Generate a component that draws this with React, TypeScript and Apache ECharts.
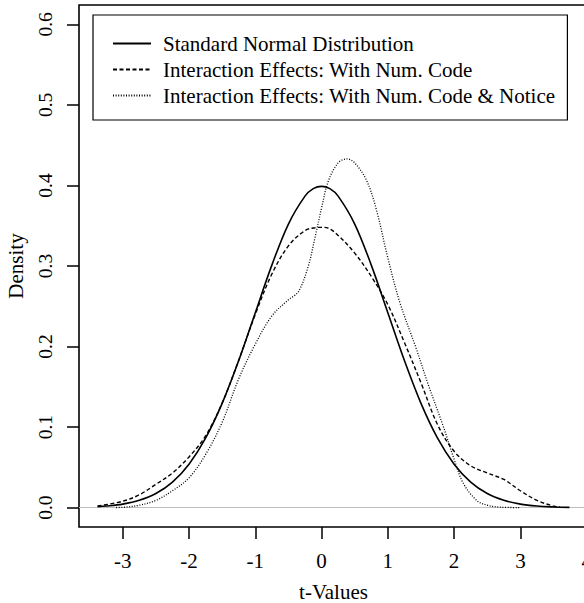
import React, { useEffect, useRef } from "react";
import * as echarts from "echarts";

const seriesNames = [
  "Standard Normal Distribution",
  "Interaction Effects: With Num. Code",
  "Interaction Effects: With Num. Code & Notice",
];

const normalX = [-3.38, -3.25, -3, -2.75, -2.5, -2.25, -2, -1.75, -1.5, -1.25, -1, -0.75, -0.5, -0.25, -0.125, 0, 0.125, 0.25, 0.5, 0.75, 1, 1.25, 1.5, 1.75, 2, 2.25, 2.5, 2.75, 3, 3.25, 3.5, 3.74];
const normalY = [0.0013, 0.002, 0.0044, 0.0091, 0.0175, 0.0317, 0.054, 0.0863, 0.1295, 0.1826, 0.242, 0.3011, 0.3521, 0.3867, 0.396, 0.3989, 0.396, 0.3867, 0.3521, 0.3011, 0.242, 0.1826, 0.1295, 0.0863, 0.054, 0.0317, 0.0175, 0.0091, 0.0044, 0.002, 0.0009, 0.0004];

const numCodeX = [-3.38, -3.0, -2.75, -2.5, -2.25, -2.0, -1.75, -1.5, -1.25, -1.0, -0.75, -0.5, -0.25, -0.1, 0, 0.1, 0.25, 0.5, 0.75, 1.0, 1.25, 1.5, 1.75, 2.0, 2.25, 2.5, 2.75, 3.0, 3.25, 3.5, 3.6];
const numCodeY = [0.002, 0.008, 0.016, 0.029, 0.043, 0.063, 0.089, 0.13, 0.183, 0.24, 0.29, 0.325, 0.344, 0.3475, 0.348, 0.347, 0.338, 0.316, 0.287, 0.252, 0.205, 0.155, 0.103, 0.07, 0.052, 0.043, 0.035, 0.021, 0.009, 0.002, 0.0008];

const noticeX = [-3.1, -3.0, -2.75, -2.5, -2.25, -2.0, -1.75, -1.5, -1.25, -1.0, -0.75, -0.5, -0.35, -0.2, -0.1, 0, 0.1, 0.25, 0.38, 0.5, 0.68, 0.83, 1.0, 1.18, 1.43, 1.6, 1.84, 2.0, 2.14, 2.34, 2.5, 2.7, 3.0];
const noticeY = [0.0002, 0.0004, 0.003, 0.009, 0.021, 0.037, 0.066, 0.106, 0.16, 0.203, 0.238, 0.258, 0.268, 0.3, 0.335, 0.372, 0.405, 0.428, 0.433, 0.428, 0.406, 0.369, 0.31, 0.255, 0.197, 0.155, 0.1, 0.06, 0.03, 0.009, 0.003, 0.0006, 0.0001];

const xTicks = [-3, -2, -1, 0, 1, 2, 3, 4];
const yTicks = [0, 0.1, 0.2, 0.3, 0.4, 0.5, 0.6];

const FONT = "'Liberation Serif', 'Times New Roman', serif";

function pairs(xs: number[], ys: number[]) {
  return xs.map((x, i) => [x, ys[i]]);
}

export default function App() {
  const ref = useRef<HTMLDivElement>(null);
  useEffect(() => {
    const chart = echarts.init(ref.current!, null, { renderer: "svg" });
    const lineBase = {
      type: "line",
      showSymbol: false,
      symbol: "none",
      smooth: 0.35,
      clip: true,
    };
    chart.setOption({
      animation: false,
      backgroundColor: "#ffffff",
      textStyle: { fontFamily: FONT },
      grid: {
        left: 79,
        top: 5,
        width: 509,
        height: 522,
        containLabel: false,
        outerBoundsMode: "none",
        show: true,
        borderColor: "#000",
        borderWidth: 1.6,
        backgroundColor: "transparent",
      },
      legend: {
        orient: "vertical",
        left: 93,
        top: 15,
        padding: [18, 12, 14, 19],
        itemWidth: 38,
        itemHeight: 14,
        itemGap: 5,
        borderColor: "#000",
        borderWidth: 1.2,
        data: seriesNames,
        itemStyle: { color: "transparent", borderColor: "transparent", borderWidth: 0, opacity: 0 },
        textStyle: {
          fontFamily: FONT,
          fontSize: 21,
          color: "#000",
          lineHeight: 20,
          padding: [0, 0, 0, 7],
        },
      },
      xAxis: {
        type: "value",
        min: -3.66,
        max: 4.02,
        name: "t-Values",
        nameLocation: "middle",
        nameGap: 54,
        nameTextStyle: { fontFamily: FONT, fontSize: 21, color: "#000" },
        axisLine: { show: false, onZero: false },
        splitLine: { show: false },
        axisTick: {
          show: true,
          inside: false,
          length: 12,
          customValues: xTicks,
          lineStyle: { color: "#000", width: 1.5 },
        },
        axisLabel: {
          customValues: xTicks,
          margin: 23,
          fontFamily: FONT,
          fontSize: 21,
          color: "#000",
          formatter: (v: number) => String(v),
        },
      },
      yAxis: {
        type: "value",
        min: -0.024,
        max: 0.624,
        name: "Density",
        nameLocation: "middle",
        nameRotate: 90,
        nameGap: 53,
        nameTextStyle: { fontFamily: FONT, fontSize: 21, color: "#000" },
        axisLine: { show: false, onZero: false },
        splitLine: { show: false },
        axisTick: {
          show: true,
          inside: false,
          length: 12,
          customValues: yTicks,
          lineStyle: { color: "#000", width: 1.5 },
        },
        axisLabel: {
          customValues: yTicks,
          rotate: 90,
          align: "center",
          verticalAlign: "bottom",
          margin: 24,
          fontFamily: FONT,
          fontSize: 19.5,
          color: "#000",
          formatter: (v: number) => v.toFixed(1),
        },
      },
      series: [
        {
          ...lineBase,
          name: seriesNames[0],
          data: pairs(normalX, normalY),
          lineStyle: { color: "#000", width: 1.6, type: "solid" },
          itemStyle: { color: "#000" },
          z: 3,
          markLine: {
            silent: true,
            symbol: ["none", "none"],
            label: { show: false },
            lineStyle: { color: "#bebebe", width: 1, type: "solid" },
            data: [{ yAxis: 0 }],
            z: 1,
          },
        },
        {
          ...lineBase,
          name: seriesNames[1],
          data: pairs(numCodeX, numCodeY),
          lineStyle: { color: "#000", width: 1.4, type: [4, 2.5] },
          itemStyle: { color: "#000" },
          z: 3,
        },
        {
          ...lineBase,
          name: seriesNames[2],
          data: pairs(noticeX, noticeY),
          lineStyle: { color: "#000", width: 1.3, type: [1, 1.6] },
          itemStyle: { color: "#000" },
          z: 3,
        },
      ],
    });
    return () => chart.dispose();
  }, []);
  return (
    <div
      style={{
        position: "fixed",
        left: 0,
        top: 0,
        width: 584,
        height: 603,
        overflow: "hidden",
        background: "#fff",
      }}
    >
      <div ref={ref} style={{ width: 600, height: 603 }} />
    </div>
  );
}
